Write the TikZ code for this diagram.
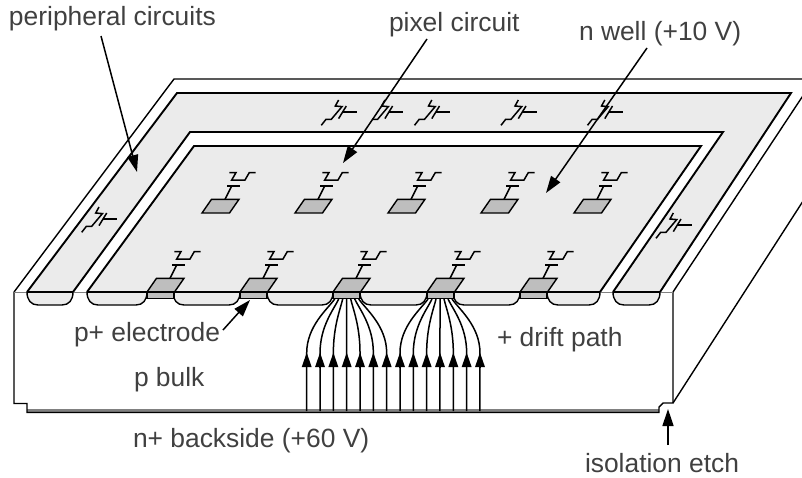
\documentclass[tikz,border=0pt]{standalone}
\usepackage{fontspec}
\setmainfont{Liberation Sans}
\usetikzlibrary{arrows.meta}
\definecolor{wellgray}{HTML}{EBEBEB}
\definecolor{padgray}{HTML}{BEBEBE}
\definecolor{backgray}{HTML}{808080}
\definecolor{labelcol}{HTML}{404040}
\tikzset{
  px/.style={x=1pt,y=-1pt},
  outline/.style={draw=black,line width=1.4pt,line join=miter},
  thick outline/.style={draw=black,line width=1.9pt},
  wellsec/.style={draw=black,line width=1.4pt,fill=wellgray},
  padtop/.style={draw=black,line width=1.4pt,fill=padgray},
  xtor/.style={draw=black,line width=1.5pt},
  lbl/.style={anchor=base west,inner sep=0pt,outer sep=0pt,text=labelcol,font=\fontsize{26.4}{30}\selectfont},
  leader/.style={draw=black,line width=1.5pt,-{Triangle[length=17pt,width=11pt]}},
  drift/.style={draw=black,line width=1.5pt},
  drifthead/.style={draw=black,line width=1.5pt,-{Triangle[length=14.5pt,width=9.5pt]}}
}
\newcommand{\pixelcell}[2]{%
  \begin{scope}[shift={(#1,#2)}]
    \draw[padtop] (0,0) -- (9.5,-13.7) -- (37,-13.7) -- (27.5,0) -- cycle;
    \draw[xtor] (23,-13.7) -- (29.7,-27);
    \draw[xtor] (25,-27) -- (38,-27);
    \draw[xtor] (27.3,-40.4) -- (34,-40.4) -- (29.7,-33) -- (43,-33) -- (47.3,-40.4) -- (53.7,-40.4);
  \end{scope}}
\newcommand{\perixtorbody}{%
    (4.7,-6) -- (10,-6) -- (20.7,-18.7) -- (14,-19.3) -- (17.3,-25.3)}
\newcommand{\perixtorgate}{%
    \draw[xtor] (17.3,-6.7) -- (25,-19.3);
    \draw[xtor] (21.7,-13.3) -- (35.7,-13.3);}
\newcommand{\perixtor}[2]{%
  \begin{scope}[shift={(#1,#2)}]
    \draw[xtor] (0,0) -- \perixtorbody;
    \perixtorgate
  \end{scope}}
\newcommand{\perixtornotail}[2]{%
  \begin{scope}[shift={(#1,#2)}]
    \draw[xtor] \perixtorbody;
    \perixtorgate
  \end{scope}}
\begin{document}
\begin{tikzpicture}[px]
\useasboundingbox (0,0) rectangle (802,477);
\begin{scope}
\clip (0,0) rectangle (802,477);
\draw[outline] (14,292) -- (174,79) -- (830,79);
\draw[outline] (673,292) -- (814,79);
\draw[outline] (673,403) -- (814,184);
\fill[wellgray] (27,292) -- (177,93) -- (791,93) -- (660,292) -- cycle;
\draw[thick outline] (27,292) -- (177,93) -- (791,93) -- (660,292);
\fill[white] (73,292) -- (190,132) -- (723,132) -- (613,292) -- cycle;
\draw[thick outline] (73,292) -- (190,132) -- (723,132) -- (613,292);
\draw[thick outline,fill=wellgray] (87,292) -- (194,146) -- (701,146) -- (600,292);
\fill[backgray] (27,408.5) rectangle (659,412);
\draw[outline] (14,292) -- (14,403.5) -- (27,403.5) -- (27,412.5) -- (659,412.5) -- (659,407) -- (663,403) -- (673,403) -- (673,292);
\draw[draw=gray,line width=0.8pt] (14,292) -- (673,292);
\end{scope}
\perixtor{321.3}{125.3}
\perixtornotail{367.6}{125.3}
\perixtor{414.5}{125.3}
\perixtor{501}{125.3}
\perixtor{587.5}{125.3}
\perixtor{81.7}{232.3}
\perixtor{656}{238.3}
\foreach \xa/\xb in {27/73,87/147,173/240,267/333,360/427,453/520,547/600,613/660}{
  \draw[wellsec] (\xa,292) .. controls (\xa,300) and (\xa+4,305) .. (\xa+11,305) -- (\xb-11,305) .. controls (\xb-4,305) and (\xb,300) .. (\xb,292);
}
\foreach \xa in {147,240,333,427,520}{
  \draw[draw=black,line width=1.4pt,fill=padgray] (\xa,292) rectangle (\xa+27,298.5);
}
\foreach \xa in {202,295,388,481,574}{\pixelcell{\xa}{213}}
\foreach \xa in {147,240,333,427,520}{\pixelcell{\xa}{292}}
\draw[black,line width=1.9pt] (27,292) -- (73,292) (87,292) -- (600,292) (613,292) -- (660,292);
\foreach \off in {306.7,400}{
  \begin{scope}[shift={(\off,0)}]
    \foreach \i in {0,1,2,3,4,5,6}{
      \pgfmathsetmacro{\bx}{\i*13.33}
      \pgfmathsetmacro{\ex}{40+(\i-3)*4}
      \pgfmathsetmacro{\cx}{\ex+(\bx-\ex)*0.25}
      \draw[drift] (\bx,411) -- (\bx,353) .. controls (\bx,326) and (\cx,309) .. (\ex,299);
      \draw[drifthead] (\bx,368) -- (\bx,352.5);
    }
  \end{scope}
}
\node[lbl] (periph) at (9,25) {peripheral circuits};
\node[lbl] (pixc) at (389,31) {pixel circuit};
\node[lbl] (nwell) at (579,40) {n well (+10 V)};
\node[lbl] (pel) at (74,341.5) {p+ electrode};
\node[lbl] (pbulk) at (134,386.5) {p bulk};
\node[lbl] (dpath) at (497,346.5) {+ drift path};
\node[lbl] (nback) at (133,447) {n+ backside (+60 V)};
\node[lbl] (iso) at (585,472) {isolation etch};
\coordinate (a1) at (101,36);  \coordinate (a2) at (137,172);
\coordinate (b1) at (427,39);  \coordinate (b2) at (343,163);
\coordinate (c1) at (647,48);  \coordinate (c2) at (546,193);
\coordinate (d1) at (223,330); \coordinate (d2) at (250,300);
\coordinate (e1) at (668,445); \coordinate (e2) at (668,409);
\draw[leader] (a1) -- (a2);
\draw[leader] (b1) -- (b2);
\draw[leader] (c1) -- (c2);
\draw[leader] (d1) -- (d2);
\draw[leader] (e1) -- (e2);
\end{tikzpicture}
\end{document}
